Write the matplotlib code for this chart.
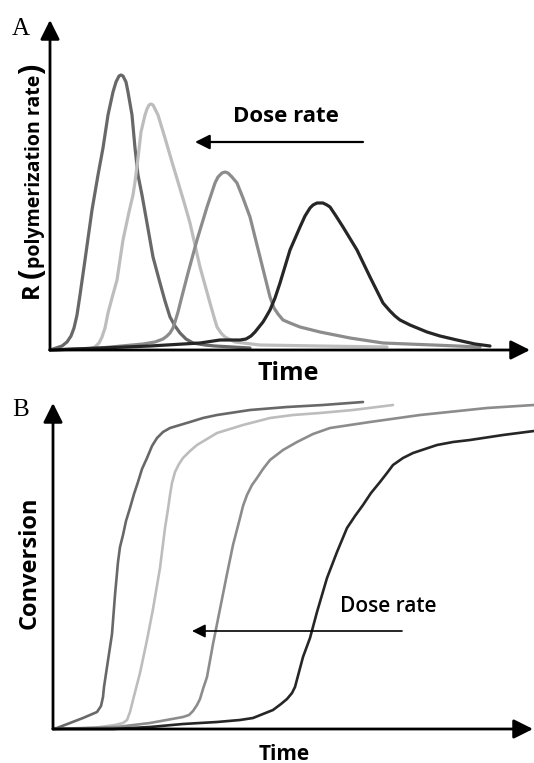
import matplotlib.pyplot as plt

# figure is 534 x 763 px
W, H = 534, 763

# ---- panel A: polymerization rate vs time (arbitrary units) ----
a1_t = [0, 6, 12, 17, 21, 24, 27, 30, 35, 42, 48, 53, 58, 63, 66, 69, 71, 73, 76, 78, 82, 85, 88, 92, 97, 103, 110, 115, 120, 125, 130, 136, 143, 155, 165, 200]
a1_r = [0, 2, 4, 8, 14, 22, 35, 55, 90, 140, 175, 202, 235, 258, 268, 274, 275, 274, 268, 258, 235, 202, 175, 155, 127, 93, 67, 49, 33, 24, 17, 11, 7, 5, 4, 2]

a2_t = [0, 40, 45, 49, 52, 55, 58, 62, 67, 73, 79, 83, 85, 88, 91, 95, 97, 99, 101, 103, 105, 108, 115, 122, 128, 134, 140, 150, 160, 164, 167, 171, 175, 185, 210, 270, 337]
a2_r = [0, 1, 3, 7, 13, 22, 37, 52, 70, 110, 138, 155, 168, 192, 218, 235, 241, 245, 246, 245, 241, 235, 212, 188, 168, 148, 127, 83, 47, 33, 23, 17, 13, 8, 5, 4, 3]

a3_t = [0, 50, 93, 105, 113, 117, 120, 123, 125, 128, 131, 138, 147, 157, 165, 168, 172, 175, 178, 182, 187, 193, 200, 210, 220, 224, 228, 233, 240, 250, 270, 300, 333, 383, 430]
a3_r = [0, 2, 6, 8, 11, 14, 17, 22, 28, 38, 50, 77, 110, 143, 167, 173, 177, 178, 177, 173, 167, 152, 133, 93, 53, 42, 36, 30, 27, 23, 18, 12, 7, 5, 3]

a4_t = [0, 50, 100, 150, 170, 190, 196, 201, 205, 209, 213, 216, 220, 225, 230, 240, 250, 255, 260, 263, 267, 270, 273, 277, 280, 286, 293, 307, 320, 333, 340, 345, 350, 360, 377, 390, 407, 425, 440]
a4_r = [0, 2, 4, 7, 10, 10, 11, 14, 18, 23, 28, 33, 40, 52, 67, 100, 123, 134, 142, 145, 147, 147, 147, 145, 143, 134, 123, 100, 73, 47, 39, 34, 30, 25, 18, 14, 10, 6, 4]

# ---- panel B: conversion vs time ----
b1_t = [0, 4, 17, 30, 44, 48, 50, 51, 54, 59, 62, 65, 67, 70, 73, 77, 81, 85, 89, 94, 99, 104, 110, 117, 127, 137, 150, 164, 197, 234, 270, 310]
b1_c = [0, 1, 6, 11, 17, 23, 32, 42, 62, 95, 134, 167, 182, 194, 208, 221, 235, 247, 260, 271, 283, 291, 297, 301, 304, 307, 311, 314, 319, 322, 324, 327]

b2_t = [0, 40, 62, 70, 74, 77, 80, 87, 94, 100, 107, 112, 115, 117, 119, 122, 126, 130, 137, 144, 154, 164, 177, 190, 217, 240, 267, 300, 340]
b2_c = [0, 1, 4, 6, 9, 17, 29, 56, 89, 120, 161, 201, 220, 234, 246, 257, 265, 271, 278, 284, 290, 296, 300, 304, 311, 314, 316, 319, 324]

b3_t = [0, 64, 97, 130, 136, 140, 144, 147, 150, 154, 160, 163, 167, 174, 180, 187, 190, 194, 199, 204, 210, 217, 230, 244, 260, 277, 317, 367, 434, 481]
b3_c = [0, 2, 6, 12, 14, 18, 24, 30, 40, 52, 85, 100, 120, 155, 184, 211, 223, 234, 244, 251, 260, 269, 279, 287, 295, 301, 307, 314, 321, 324]

b4_t = [0, 60, 97, 130, 164, 187, 200, 210, 220, 228, 234, 239, 242, 246, 250, 257, 264, 274, 284, 294, 302, 310, 318, 327, 334, 340, 350, 360, 372, 384, 400, 417, 450, 481]
b4_c = [0, 0, 2, 5, 7, 9, 11, 15, 19, 25, 30, 36, 42, 57, 72, 91, 117, 151, 177, 201, 213, 224, 236, 247, 256, 264, 271, 276, 280, 284, 287, 289, 294, 298]

# grey levels: highest dose rate first
colors = ['#686868', '#bdbdbd', '#8c8c8c', '#262626']

font = 'Open Sans'


def fx(x):
    return x / W


def fy(y):
    return 1 - y / H


def axis_arrows(ax):
    st = '-|>,head_length=0.9,head_width=0.45'
    for end in [(0, 1), (1, 0)]:
        ax.annotate('', xy=end, xytext=(0, 0), xycoords='axes fraction',
                    arrowprops=dict(arrowstyle=st, lw=2, color='black',
                                    shrinkA=0, shrinkB=0, mutation_scale=13))


fig = plt.figure(figsize=(W / 100, H / 100), dpi=100)

# panel A
axA = fig.add_axes([fx(50), fy(350), 480 / W, 330 / H])
axA.set_xlim(0, 480)
axA.set_ylim(0, 330)
axA.axis('off')
for t, r, c in zip([a1_t, a2_t, a3_t, a4_t], [a1_r, a2_r, a3_r, a4_r], colors):
    axA.plot(t, r, color=c, lw=2.3, solid_capstyle='round', solid_joinstyle='round', clip_on=False)
axis_arrows(axA)
axA.annotate('', xy=(145, 208), xytext=(313, 208),
             arrowprops=dict(arrowstyle='-|>,head_length=0.8,head_width=0.4', lw=1.6,
                             color='black', shrinkA=0, shrinkB=0, mutation_scale=11))
axA.text(236, 234, 'Dose rate', family=font, weight='bold', fontsize=16, ha='center', va='center')

# panel B
axB = fig.add_axes([fx(53), fy(729), 480 / W, 326 / H])
axB.set_xlim(0, 480)
axB.set_ylim(0, 326)
axB.axis('off')
for t, v, c in zip([b1_t, b2_t, b3_t, b4_t], [b1_c, b2_c, b3_c, b4_c], colors):
    axB.plot(t, v, color=c, lw=1.9, solid_capstyle='round', solid_joinstyle='round', clip_on=False)
axis_arrows(axB)
axB.annotate('', xy=(139, 98), xytext=(349, 98),
             arrowprops=dict(arrowstyle='-|>,head_length=0.8,head_width=0.4', lw=1.2,
                             color='black', shrinkA=0, shrinkB=0, mutation_scale=10))
axB.text(335, 122, 'Dose rate', family=font, weight='semibold', fontsize=15, ha='center', va='center')

# panel letters
fig.text(fx(21), fy(29), 'A', family='Liberation Serif', fontsize=18, ha='center', va='center')
fig.text(fx(21), fy(410), 'B', family='Liberation Serif', fontsize=18, ha='center', va='center')

# x labels
fig.text(fx(288), fy(373), 'Time', family=font, weight='bold', fontsize=18, ha='center', va='center')
fig.text(fx(284), fy(754), 'Time', family=font, weight='bold', fontsize=15, ha='center', va='center')

# y labels
fig.text(fx(30), fy(563), 'Conversion', family=font, weight='bold', fontsize=17,
         rotation=90, ha='center', va='center')

# R (polymerization rate) built from pieces of different size
fig.canvas.draw()
rend = fig.canvas.get_renderer()
y0 = 300
pieces = [('R ', 17), ('(', 22), ('polymerization rate', 14), (')', 22)]
for s, size in pieces:
    tx = fig.text(fx(40), fy(y0), s, family=font, weight='bold', fontsize=size,
                  rotation=90, rotation_mode='anchor', ha='left', va='baseline')
    y0 -= tx.get_window_extent(rend).height

fig.savefig('out.png', dpi=100)
